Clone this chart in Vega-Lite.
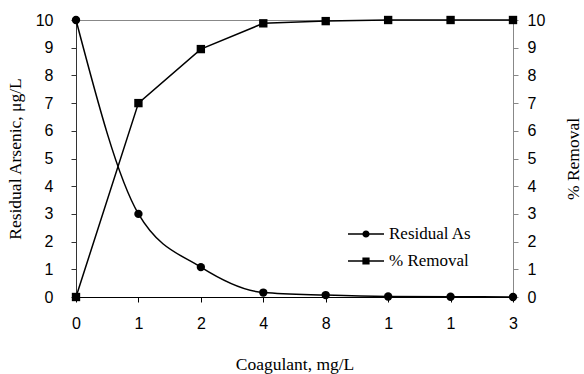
{
  "$schema": "https://vega.github.io/schema/vega-lite/v6.json",
  "width": 437,
  "height": 277,
  "autosize": {"type": "none"},
  "padding": {"left": 76, "top": 20, "right": 71, "bottom": 77},
  "background": "white",
  "config": {
    "view": {"stroke": "#888888", "strokeWidth": 1},
    "axis": {
      "labelFont": "Liberation Sans",
      "labelFontSize": 16,
      "labelColor": "black",
      "titleFont": "Liberation Serif",
      "titleFontSize": 17.5,
      "titleFontWeight": "normal",
      "titleColor": "black",
      "grid": false
    },
    "legend": {
      "labelFont": "Liberation Serif",
      "labelFontSize": 17,
      "labelColor": "black"
    }
  },
  "data": {
    "values": [
      {"i": 0, "series": "Residual As", "value": 10},
      {"i": 1, "series": "Residual As", "value": 3.0},
      {"i": 2, "series": "Residual As", "value": 1.08},
      {"i": 3, "series": "Residual As", "value": 0.16},
      {"i": 4, "series": "Residual As", "value": 0.07},
      {"i": 5, "series": "Residual As", "value": 0.02},
      {"i": 6, "series": "Residual As", "value": 0.01},
      {"i": 7, "series": "Residual As", "value": 0.0},
      {"i": 0, "series": "% Removal", "value": 0},
      {"i": 1, "series": "% Removal", "value": 7.0},
      {"i": 2, "series": "% Removal", "value": 8.95},
      {"i": 3, "series": "% Removal", "value": 9.88},
      {"i": 4, "series": "% Removal", "value": 9.96},
      {"i": 5, "series": "% Removal", "value": 10},
      {"i": 6, "series": "% Removal", "value": 10},
      {"i": 7, "series": "% Removal", "value": 10}
    ]
  },
  "encoding": {
    "x": {
      "field": "i",
      "type": "ordinal",
      "scale": {"type": "point", "padding": 0},
      "axis": {
        "title": "Coagulant, mg/L",
        "labelAngle": 0,
        "labelExpr": "['0','1','2','4','8','1','1','3'][datum.value]",
        "domainColor": "black",
        "domainWidth": 1.2,
        "tickColor": "black",
        "tickSize": 5,
        "labelPadding": 13,
        "titlePadding": 24
      }
    }
  },
  "layer": [
    {
      "encoding": {
        "y": {
          "field": "value",
          "type": "quantitative",
          "scale": {"domain": [0, 10], "nice": false},
          "axis": {
            "orient": "left",
            "title": "Residual Arsenic,  μg/L",
            "values": [0, 1, 2, 3, 4, 5, 6, 7, 8, 9, 10],
            "domainColor": "#333333",
            "tickColor": "#333333",
            "tickSize": 5,
            "labelPadding": 18,
            "titlePadding": 11
          }
        }
      },
      "layer": [
        {
          "transform": [{"filter": "datum.series == 'Residual As'"}],
          "mark": {"type": "line", "interpolate": "monotone", "color": "black", "strokeWidth": 1.5}
        },
        {
          "transform": [{"filter": "datum.series == 'Residual As'"}],
          "mark": {"type": "point", "shape": "circle", "filled": true, "color": "black", "opacity": 1, "size": 70}
        },
        {
          "mark": {"type": "point", "filled": true, "color": "black", "opacity": 0, "size": 10},
          "encoding": {
            "shape": {
              "field": "series",
              "type": "nominal",
              "scale": {
                "domain": ["Residual As", "% Removal"],
                "range": [
                  "M-1,-0.042H1V0.042H-1ZM0.2,0A0.2,0.2,0,1,1,-0.2,0A0.2,0.2,0,1,1,0.2,0Z",
                  "M-1,-0.042H1V0.042H-1ZM-0.2,-0.2H0.2V0.2H-0.2Z"
                ]
              },
              "legend": {
                "title": null,
                "orient": "none",
                "legendX": 271,
                "legendY": 195,
                "padding": 0,
                "symbolSize": 1296,
                "rowPadding": -6,
                "labelOffset": 4,
                "symbolFillColor": "black",
                "encode": {
                  "symbols": {
                    "fill": {"value": "black"},
                    "opacity": {"value": 1}
                  }
                }
              }
            }
          }
        }
      ]
    },
    {
      "transform": [{"filter": "datum.series == '% Removal'"}],
      "encoding": {
        "y": {
          "field": "value",
          "type": "quantitative",
          "scale": {"domain": [0, 10], "nice": false},
          "axis": {
            "orient": "right",
            "title": "% Removal",
            "titleAngle": 270,
            "values": [0, 1, 2, 3, 4, 5, 6, 7, 8, 9, 10],
            "domainColor": "#888888",
            "tickColor": "#888888",
            "tickSize": 5,
            "labelPadding": 9,
            "titlePadding": 38
          }
        }
      },
      "layer": [
        {"mark": {"type": "line", "color": "black", "strokeWidth": 1.5}},
        {"mark": {"type": "point", "shape": "square", "filled": true, "color": "black", "opacity": 1, "size": 70}}
      ]
    }
  ],
  "resolve": {"scale": {"y": "independent"}}
}
